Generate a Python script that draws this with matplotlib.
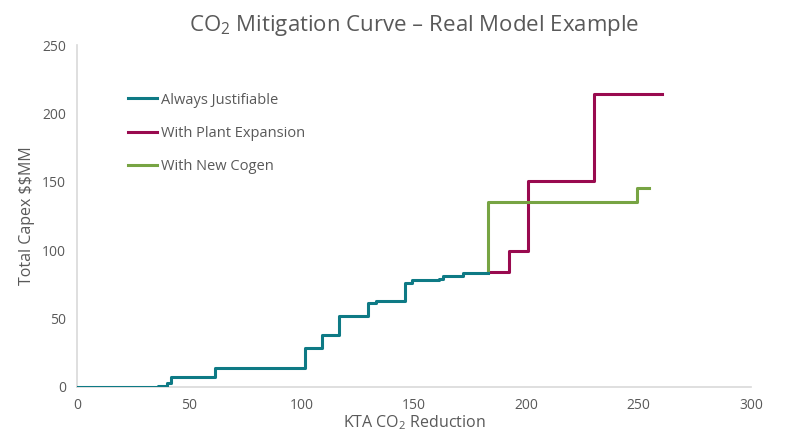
import matplotlib
matplotlib.use("Agg")
import matplotlib.pyplot as plt

teal_x = [0, 31, 36, 40, 41.8, 61.4, 101.5, 109.2, 116.4, 129.7, 132.9, 146, 149.2, 161.1, 163, 171.9, 183]
teal_y = [0, 0.3, 0.8, 3.1, 7.1, 13.7, 28.7, 38.0, 51.9, 61.6, 62.9, 75.8, 78.2, 79.2, 81.1, 83.1, 83.1]
mag_x = [182.8, 192.4, 200.6, 230.2, 260.2]
mag_y = [83.8, 99.2, 150.8, 214, 214]
grn_x = [182.8, 182.8, 249.1, 254.6]
grn_y = [83.8, 135, 145.5, 145.5]
labels = ["Always Justifiable", "With Plant Expansion", "With New Cogen"]
xticks = [0, 50, 100, 150, 200, 250, 300]
yticks = [0, 50, 100, 150, 200, 250]

plt.rcParams['font.family'] = ['Open Sans', 'DejaVu Sans']
plt.rcParams['mathtext.default'] = 'regular'
txt = '#595959'
fig = plt.figure(figsize=(8, 4.32), dpi=100)
ax = fig.add_axes([0.09625, 0.1042, 0.8425, 0.7916])
ax.plot(teal_x, teal_y, drawstyle='steps-post', color='#0E7A85', lw=2.2, label=labels[0], zorder=3)
ax.plot(mag_x, mag_y, drawstyle='steps-post', color='#990A4F', lw=2.2, label=labels[1])
ax.plot(grn_x, grn_y, drawstyle='steps-post', color='#77A443', lw=2.2, label=labels[2])
ax.set_xlim(0, 300)
ax.set_ylim(0, 250)
ax.set_xticks(xticks)
ax.set_yticks(yticks)
for s in ['top', 'right']:
    ax.spines[s].set_visible(False)
for s in ['left', 'bottom']:
    ax.spines[s].set_color('#D9D9D9')
    ax.spines[s].set_linewidth(1.2)
ax.tick_params(length=0, colors=txt, labelsize=10, pad=8)
ax.set_xlabel('KTA CO$_2$ Reduction', color=txt, fontsize=11.5, labelpad=0)
ax.set_ylabel(r'Total Capex \$\$MM', color=txt, fontsize=11.5, labelpad=5)
ax.set_title('CO$_2$ Mitigation Curve – Real Model Example', color=txt, fontsize=16, pad=10)
leg = ax.legend(loc='upper left', bbox_to_anchor=(0.0757, 0.861), frameon=False, borderpad=0,
                borderaxespad=0, fontsize=10.5, handlelength=2.0, labelspacing=1.25, handletextpad=0.25)
for t in leg.get_texts():
    t.set_color(txt)
fig.savefig('out.png', dpi=100)
